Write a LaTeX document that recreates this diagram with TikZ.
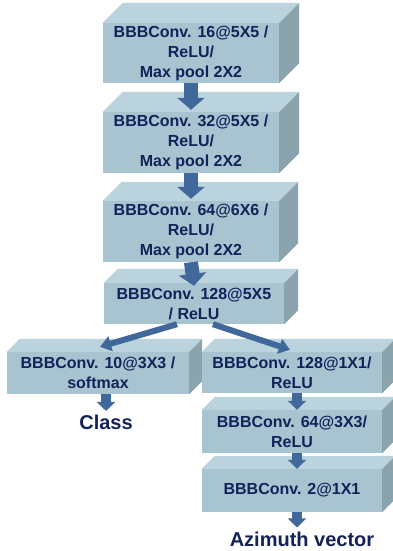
\documentclass[tikz,border=0pt]{standalone}
\usepackage{fontspec}
\setmainfont{Liberation Sans}
\usetikzlibrary{arrows.meta,calc}
\definecolor{frontc}{HTML}{A7C4D0}
\definecolor{topc}{HTML}{BBD3DC}
\definecolor{sidec}{HTML}{8AA3AD}
\definecolor{txtc}{HTML}{14225A}
\definecolor{arrc}{HTML}{41689A}
\newcommand\slabfaces[2]{%
  \fill[topc] (#1.north west) -- ([shift={(#2,-#2)}]#1.north west) -- ([shift={(#2,-#2)}]#1.north east) -- (#1.north east) -- cycle;
  \fill[sidec] (#1.north east) -- ([shift={(#2,-#2)}]#1.north east) -- ([shift={(#2,-#2)}]#1.south east) -- (#1.south east) -- cycle;}
\tikzset{
  slab/.style={fill=frontc, inner sep=0pt, align=center, text=txtc,
    font=\fontsize{16}{20}\selectfont\bfseries},
  lbl/.style={inner sep=0pt, text=txtc, font=\fontsize{20}{24}\selectfont\bfseries},
  bigarrow/.style={draw=arrc, line width=14pt, -{Triangle[width=27pt,length=12pt]}},
  diagarrow/.style={draw=arrc, line width=6pt, -{Triangle[width=15pt,length=11pt]}},
  smallarrow/.style={draw=arrc, line width=10pt, -{Triangle[width=18pt,length=9pt]}}
}
\begin{document}
\begin{tikzpicture}[x=1pt,y=-1pt]
\useasboundingbox (0,0) rectangle (393,551);
\fill[white] (0,0) rectangle (393,551);
\clip (0,0) rectangle (393,551);
\node[slab, minimum width=176pt, minimum height=60pt] (b1) at (191,53) {BBBConv. 16@5X5 /\\ReLU/\\Max pool 2X2};
\slabfaces{b1}{20}
\node[slab, minimum width=176pt, minimum height=61pt] (b2) at (191,142.5) {BBBConv. 32@5X5 /\\ReLU/\\Max pool 2X2};
\slabfaces{b2}{20}
\node[slab, minimum width=176pt, minimum height=61pt] (b3) at (191,231.5) {BBBConv. 64@6X6 /\\ReLU/\\Max pool 2X2};
\slabfaces{b3}{19}
\node[slab, minimum width=180pt, minimum height=41pt] (b4) at (194,303.5) {BBBConv. 128@5X5\\/ ReLU};
\slabfaces{b4}{14}
\node[slab, minimum width=182pt, minimum height=42pt] (b5) at (98,373) {BBBConv. 10@3X3 /\\softmax};
\slabfaces{b5}{13}
\node[slab, minimum width=180pt, minimum height=41pt] (b6) at (292,372.5) {BBBConv. 128@1X1/\\ReLU};
\slabfaces{b6}{13}
\node[slab, minimum width=180pt, minimum height=43pt] (b7) at (292,431.5) {BBBConv. 64@3X3/\\ReLU};
\slabfaces{b7}{13}
\node[slab, minimum width=180pt, minimum height=43pt] (b8) at (292,490.5) {BBBConv. 2@1X1};
\slabfaces{b8}{13}
\node[lbl] (cls) at (106,422.5) {Class};
\node[lbl] (az) at (302,539) {Azimuth vector};
\draw[bigarrow] (b1.south) -- ([yshift=2pt]b2.north);
\draw[bigarrow] (b2.south) -- ([yshift=2pt]b3.north);
\draw[bigarrow] (b3.south) -- ([yshift=-3pt]b4.north);
\draw[diagarrow] ([xshift=-17pt]b4.south) -- ([shift={(2pt,5pt)}]b5.north);
\draw[diagarrow] ([xshift=19pt]b4.south) -- ([shift={(-2pt,2pt)}]b6.north);
\draw[smallarrow] (b5.south -| cls.north) -- ([yshift=4pt]cls.north);
\draw[smallarrow] ([xshift=5pt]b6.south) -- ([xshift=5pt]b7.north);
\draw[smallarrow] ([xshift=5pt]b7.south) -- ([xshift=5pt]b8.north);
\draw[smallarrow] ([xshift=5pt]b8.south) -- ([xshift=-5pt,yshift=4pt]az.north);
\end{tikzpicture}
\end{document}
